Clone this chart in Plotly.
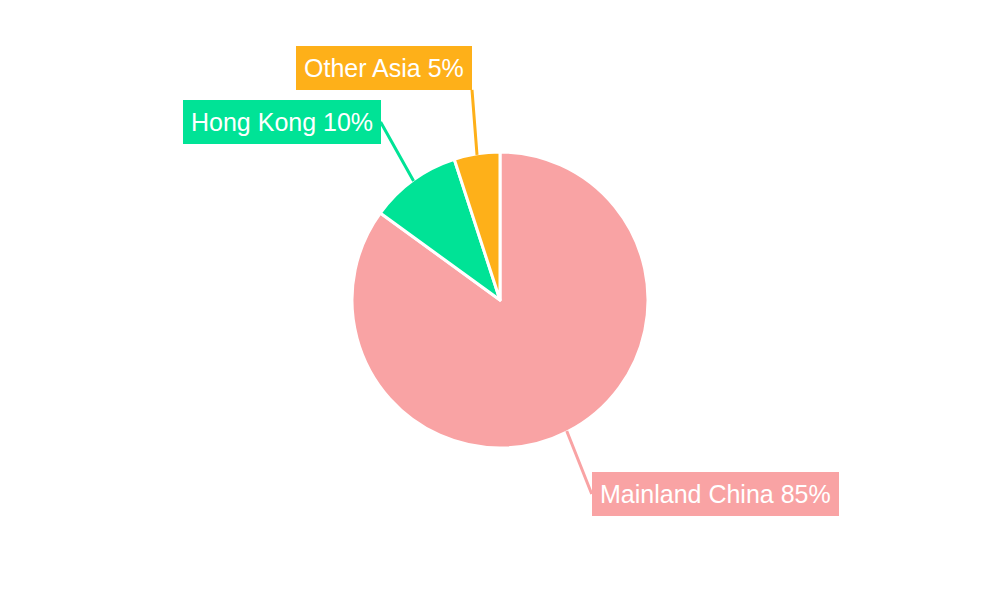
import math
import plotly.graph_objects as go

labels = ["Mainland China", "Hong Kong", "Other Asia"]
values = [85, 10, 5]
colors = ["#f9a3a4", "#00e396", "#feb019"]

# label offsets (px) of the label box anchor from the slice edge point
label_ax = [25, -33, -5]
label_ay = [63, -59, -65]
label_xanchor = ["left", "right", "right"]
label_yanchor = ["middle", "middle", "bottom"]

W, H = 1000, 600
PAGE_OFF = 8  # page body margin offset
cx = (500 - PAGE_OFF) / W
cy = 1 - (300 - PAGE_OFF) / H
R_px = 148

fig = go.Figure()
fig.add_trace(go.Pie(
    labels=labels, values=values, sort=False, direction="clockwise", rotation=0,
    marker=dict(colors=colors, line=dict(color="white", width=3)),
    textinfo="none", hoverinfo="label+percent", showlegend=False,
    domain=dict(x=[cx - R_px / W, cx + R_px / W], y=[cy - R_px / H, cy + R_px / H]),
))

total = sum(values)
cum = 0
annotations = []
for lab, v, col, ax, ay, xa, ya in zip(labels, values, colors, label_ax, label_ay, label_xanchor, label_yanchor):
    mid = (cum + v / 2) / total * 2 * math.pi
    cum += v
    px = cx + (R_px - 1) * math.sin(mid) / W
    py = cy + (R_px - 1) * math.cos(mid) / H
    annotations.append(dict(
        x=px, y=py, xref="paper", yref="paper",
        text=f"{lab} {round(v / total * 100)}%",
        showarrow=True, arrowhead=0, arrowwidth=3, arrowcolor=col,
        ax=ax, ay=ay, xanchor=xa, yanchor=ya,
        bgcolor=col, borderpad=8, borderwidth=0,
        font=dict(family="Liberation Sans, Arial, sans-serif", size=25, color="white"),
        standoff=0, startstandoff=0,
    ))

fig.update_layout(
    width=W, height=H, margin=dict(l=0, r=0, t=0, b=0),
    paper_bgcolor="white", plot_bgcolor="white",
    annotations=annotations,
)
fig.write_html("out.html")
